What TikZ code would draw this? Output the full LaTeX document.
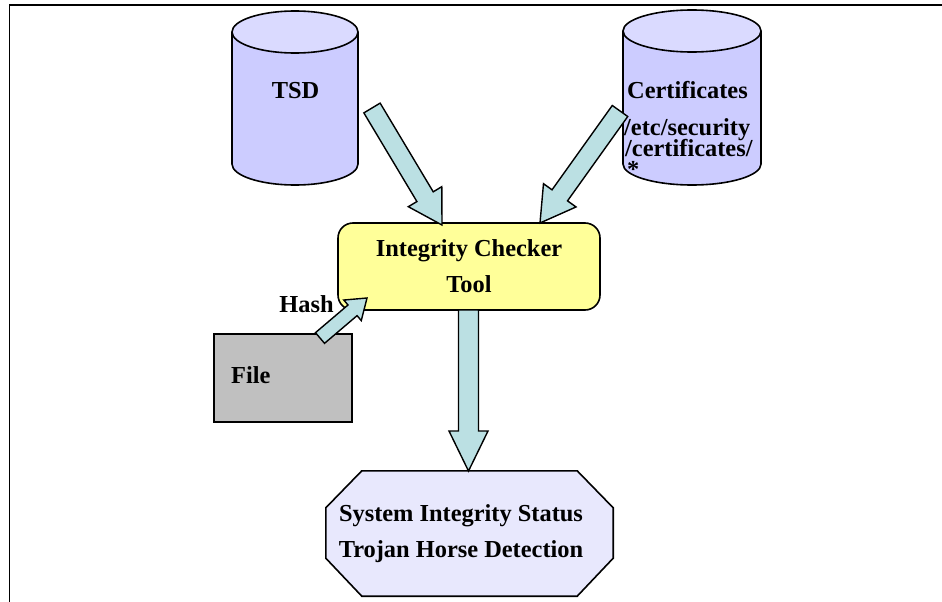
\documentclass[tikz,border=0pt]{standalone}
\usepackage{fontspec}
\setmainfont{Liberation Serif}
\usetikzlibrary{calc}
\definecolor{cylbody}{RGB}{204,204,255}
\definecolor{cyltop}{RGB}{218,218,255}
\definecolor{ictfill}{RGB}{255,255,153}
\definecolor{filefill}{RGB}{192,192,192}
\definecolor{statfill}{RGB}{232,232,253}
\definecolor{arrfill}{RGB}{187,224,227}
% #1 tail, #2 tip, #3 shaft half-width, #4 head half-width, #5 head length
\newcommand{\blockarr}[5]{%
  \path ($(#2)!#5!(#1)$) coordinate (bahead);
  \filldraw[blockarrow] ($(#1)!#3!90:(#2)$) -- ($(bahead)!#3!90:(#2)$) -- ($(bahead)!#4!90:(#2)$) -- (#2)
    -- ($(bahead)!#4!-90:(#2)$) -- ($(bahead)!#3!-90:(#2)$) -- ($(#1)!#3!-90:(#2)$) -- cycle;}
% #1 name, #2 cx, #3 rx, #4 top centre y, #5 bottom centre y
\newcommand{\drumshape}[5]{%
  \fill[cylbody] ({#2-#3},#4) -- ({#2-#3},#5) arc[start angle=180,end angle=360,x radius=#3pt,y radius=21pt] -- ({#2+#3},#4) -- cycle;
  \draw[outline] ({#2-#3},#4) -- ({#2-#3},#5) arc[start angle=180,end angle=360,x radius=#3pt,y radius=21pt] -- ({#2+#3},#4);
  \filldraw[outline, fill=cyltop] (#2,#4) ellipse[x radius=#3pt, y radius=21pt];
  \node[inner sep=0pt, minimum width=2*#3pt, minimum height={#5-#4+42pt}] (#1) at (#2,{(#4+#5)/2}) {};}
\tikzset{
  outline/.style={draw=black, line width=1.6pt},
  bigtext/.style={font=\fontsize{24.4}{36}\selectfont\bfseries, inner sep=0pt},
  ictbox/.style={outline, fill=ictfill, rounded corners=15pt, minimum width=262pt, minimum height=87pt, align=center, bigtext},
  filebox/.style={outline, fill=filefill, minimum width=138pt, minimum height=88pt, inner sep=0pt},
  blockarrow/.style={draw=black, line width=1.4pt, fill=arrfill, line join=miter},
  frameline/.style={line width=1.6pt},
  holder/.style={inner sep=0pt}
}
\begin{document}
\begin{tikzpicture}[x=1pt, y=-1pt]
\useasboundingbox (0,0) rectangle (942,602);
% frame
\coordinate (framecorner) at (9.3,5.3);
\coordinate (framebottom) at (9.3,602);
\coordinate (frameright) at (942,5.3);
\draw[frameline] (framebottom) -- (framecorner) -- (frameright);

% cylinders
\drumshape{tsd}{295}{63}{32}{164}
\drumshape{cert}{692}{69}{31}{164}
\node[bigtext, anchor=base] (tsdlabel) at (295.5,98) {TSD};
\node[bigtext, anchor=base west] (certlabel) at (627,99) {Certificates};
\node[bigtext, anchor=base west] (certpathA) at (624,135) {/etc/security};
\node[bigtext, anchor=base west] (certpathB) at (625,156) {/certificates/};
\node[bigtext, anchor=base west] (certpathC) at (627,177) {*};

% integrity checker
\node[ictbox] (ict) at (469,266.5) {Integrity Checker\\Tool};

% file
\node[filebox] (file) at (283,378) {};
\node[bigtext, anchor=base west] (filelabel) at (231,383) {File};
\node[bigtext, anchor=base] (hash) at (306.5,312) {Hash};

% status octagon
\node[holder, minimum width=287pt, minimum height=125pt] (status) at (469.5,533.5) {};
\filldraw[outline, fill=statfill]
  ($(status.north west)+(36,0)$) -- ($(status.north east)+(-36,0)$) -- ($(status.north east)+(0,37)$)
  -- ($(status.south east)+(0,-38)$) -- ($(status.south east)+(-36,0)$) -- ($(status.south west)+(36,0)$)
  -- ($(status.south west)+(0,-38)$) -- ($(status.north west)+(0,37)$) -- cycle;
\node[bigtext, align=center] (statustext) at (461,534) {System Integrity Status\\Trojan Horse Detection};

% arrow end points
\coordinate (tsdout) at (372,108);
\coordinate (ictinA) at (442,225);
\coordinate (certout) at (620,111);
\coordinate (ictinB) at (540,223);
\coordinate (fileout) at (320,338);
\coordinate (ictinC) at (367,298);
\coordinate (ictout) at (468.5,310);
\coordinate (statusin) at (468.5,471);

\blockarr{tsdout}{ictinA}{9.5pt}{19.5pt}{33pt}
\blockarr{certout}{ictinB}{9.5pt}{20pt}{34pt}
\blockarr{fileout}{ictinC}{7pt}{13.5pt}{19pt}
\blockarr{ictout}{statusin}{10pt}{19.5pt}{40pt}
\end{tikzpicture}
\end{document}
